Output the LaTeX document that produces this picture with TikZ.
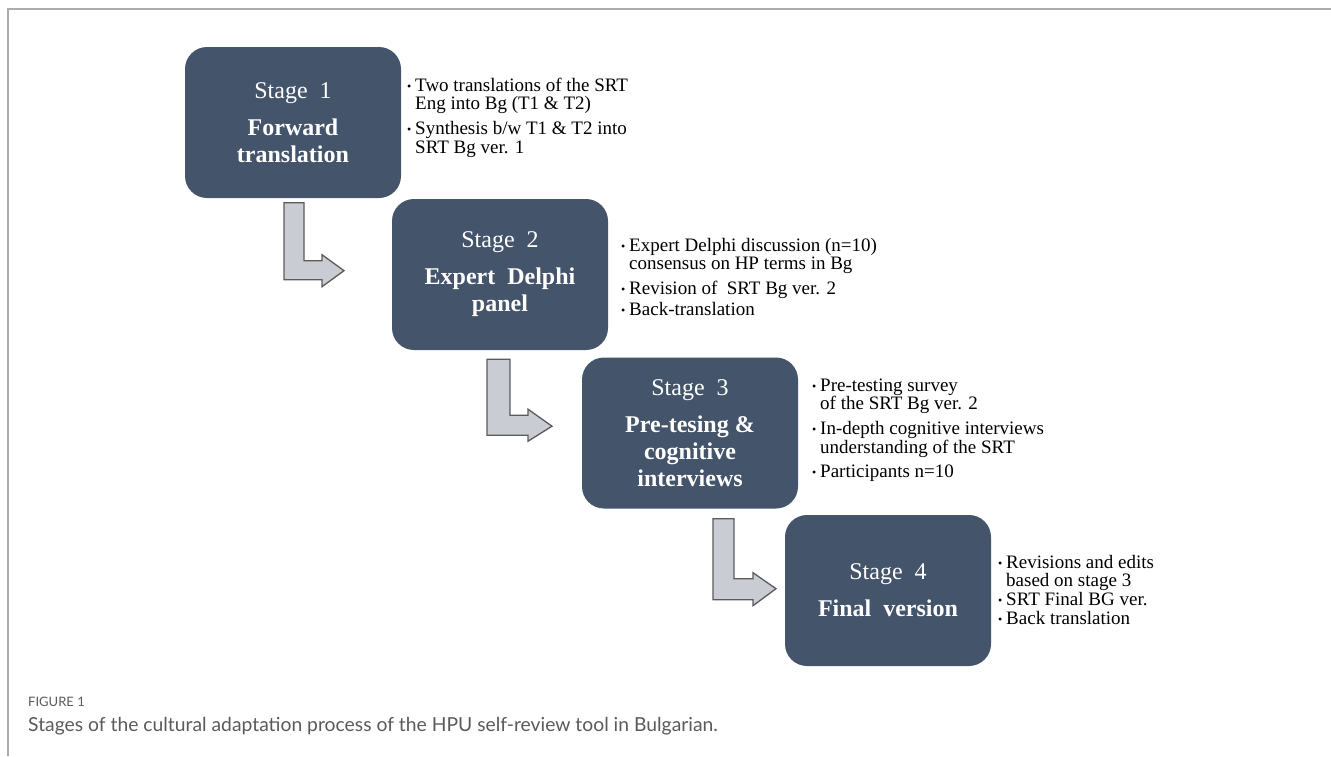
\documentclass[tikz,border=0pt]{standalone}
\usepackage{fontspec}
\setmainfont{Liberation Serif}
\newfontfamily\capfont{Lato}
\usetikzlibrary{calc}
\definecolor{boxblue}{HTML}{44546A}
\definecolor{arrfill}{HTML}{C9CDD3}
\definecolor{arrline}{HTML}{5A5A5A}
\definecolor{framegray}{HTML}{ABABAB}
\definecolor{capgray}{HTML}{5A5A5A}
\newcommand{\bulsym}{\makebox[8pt][l]{\fontsize{12}{12}\selectfont\raisebox{1pt}{•}}}
\newcommand{\bitem}[1]{\hbox{\bulsym#1}}
\newcommand{\bcont}[1]{\hbox{\hspace{8pt}#1}}
\begin{document}
\begin{tikzpicture}[x=1pt,y=-1pt,
  stagebox/.style={fill=boxblue, rounded corners=22pt, minimum width=216pt,
    minimum height=151pt, text=white, align=center, inner sep=0pt,
    font=\fontsize{24}{27}\selectfont},
  bullets/.style={anchor=base west, inner sep=0pt, font=\fontsize{19}{18.5}\selectfont},
  bentarrow/.style={fill=arrfill, draw=arrline, line width=1.3pt, line join=miter},
]
\useasboundingbox (0,0) rectangle (1331,756);
\draw[framegray, line width=1.5pt] (1331,9) -- (8,9) -- (8,756);

% stage boxes
\node[stagebox] (s1) at (293,122.5) {Stage\ \ 1\\[10pt]\textbf{Forward}\\\textbf{translation}};
\node[stagebox] (s2) at (500,274.5) {Stage\ \ 2\\[10pt]\textbf{Expert\ \ Delphi}\\\textbf{panel}};
\node[stagebox] (s3) at (690,433) {Stage\ \ 3\\[10pt]\textbf{Pre-tesing \&}\\\textbf{cognitive}\\\textbf{interviews}};
\node[stagebox, minimum width=206pt] (s4) at (888,590.5) {Stage\ \ 4\\[10pt]\textbf{Final\ \ version}};

% bullet texts
\node[bullets] (b1) at (407,91) {\vtop{%
  \bitem{Two translations of the SRT}
  \bcont{Eng into Bg (T1 \& T2)}
  \vskip6.5pt
  \bitem{Synthesis b/w T1 \& T2 into}
  \bcont{SRT Bg ver. 1}}};
\node[bullets] (b2) at (621,251) {\vtop{%
  \bitem{Expert Delphi discussion (n=10)}
  \bcont{consensus on HP terms in Bg}
  \vskip6.5pt
  \bitem{Revision of\ \ SRT Bg ver. 2}
  \vskip2.5pt
  \bitem{Back-translation}}};
\node[bullets] (b3) at (812,391) {\vtop{%
  \bitem{Pre-testing survey}
  \bcont{of the SRT Bg ver. 2}
  \vskip6.5pt
  \bitem{In-depth cognitive interviews}
  \bcont{understanding of the SRT}
  \vskip5.5pt
  \bitem{Participants n=10}}};
\node[bullets] (b4) at (998,568) {\vtop{%
  \bitem{Revisions and edits}
  \bcont{based on stage 3}
  \vskip0.5pt
  \bitem{SRT Final BG ver.}
  \vskip0.5pt
  \bitem{Back translation}}};

% bent arrows between stages
\draw[bentarrow, shift={($(s1.south)+(-9,4.5)$)}]
  (0,0) -- (20,0) -- (20,58) -- (38,58) -- (38,52) -- (60,68) -- (38,84) -- (38,77) -- (0,77) -- cycle;
\draw[bentarrow, shift={($(s2.south)+(-13,9)$)}]
  (0,0) -- (23,0) -- (23,56) -- (41,56) -- (41,50) -- (65,67) -- (41,82) -- (41,76) -- (0,76) -- cycle;
\draw[bentarrow, shift={($(s3.south)+(23,10)$)}]
  (0,0) -- (21,0) -- (21,60) -- (40,60) -- (40,54) -- (63,70) -- (40,87) -- (40,81) -- (0,81) -- cycle;

% caption
\node[anchor=base west, inner sep=0pt, text=capgray, font=\capfont\fontsize{13}{15}\selectfont] (fig) at (28,706) {FIGURE 1};
\node[anchor=base west, inner sep=0pt, text=capgray, font=\capfont\fontsize{19.3}{22}\selectfont] (cap) at (28,731) {Stages of the cultural adaptation process of the HPU self-review tool in Bulgarian.};
\end{tikzpicture}
\end{document}
